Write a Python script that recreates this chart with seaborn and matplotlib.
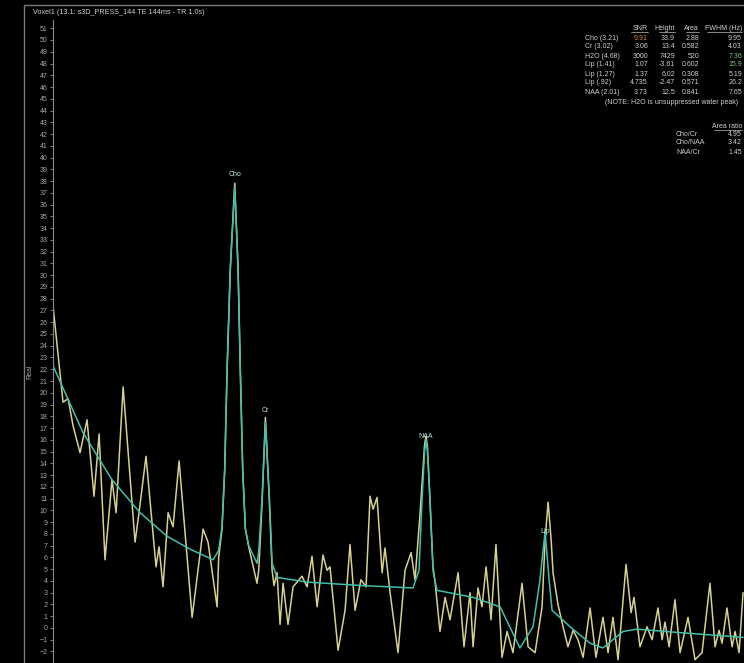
import numpy as np
import pandas as pd
import seaborn as sns
import matplotlib.pyplot as plt
from matplotlib.lines import Line2D
from matplotlib.patches import Rectangle

# --- data ---
# measured spectrum (real part), chemical shift in ppm
spec_ppm = [4.355, 4.292, 4.260, 4.229, 4.185, 4.141, 4.097, 4.065, 4.028, 3.984,
            3.958, 3.914, 3.839, 3.814, 3.770, 3.707, 3.688, 3.663, 3.631, 3.600,
            3.562, 3.480, 3.411, 3.380, 3.323, 3.313, 3.292, 3.275, 3.260, 3.240,
            3.212, 3.191, 3.177, 3.162, 3.145, 3.124, 3.072, 3.061, 3.040, 3.019,
            2.994, 2.977, 2.965, 2.946, 2.927,
            2.908, 2.877, 2.845, 2.789, 2.757, 2.726, 2.694, 2.657, 2.631, 2.613,
            2.562, 2.518, 2.487, 2.455, 2.418, 2.386, 2.361, 2.342, 2.317, 2.285,
            2.267, 2.235, 2.185, 2.141, 2.103, 2.078, 2.046, 2.028, 2.018, 2.009,
            2.000, 1.990,
            1.965, 1.952, 1.921, 1.889, 1.858, 1.807, 1.770, 1.732, 1.713, 1.682,
            1.657, 1.631, 1.600, 1.569, 1.531, 1.499, 1.462, 1.405, 1.367, 1.323,
            1.279, 1.260, 1.241, 1.222, 1.210, 1.179, 1.147, 1.116, 1.084, 1.053,
            1.021, 0.977,
            0.940, 0.896, 0.864, 0.833, 0.801, 0.751, 0.719, 0.701, 0.663, 0.619,
            0.587, 0.550, 0.524, 0.506, 0.480, 0.443, 0.411, 0.361, 0.317, 0.273,
            0.223, 0.191, 0.166, 0.147, 0.116, 0.084, 0.065, 0.040, 0.015]
spec_val = [27.4, 19.2, 19.5, 17.2, 14.9, 17.7, 11.2, 16.5, 5.8, 12.6,
            9.8, 20.5, 7.3, 9.8, 14.6, 5.2, 6.9, 3.5, 9.8, 8.6,
            14.2, 0.9, 8.4, 7.3, 1.8, 6.0, 8.4, 13.5, 22.0, 30.5,
            37.8, 30.5, 22.0, 13.5, 8.4, 6.9, 3.8, 4.9, 10.7, 17.9,
            10.7, 4.9, 3.6, 4.7, 0.3,
            3.8, 0.3, 3.5, 4.4, 3.5, 6.1, 1.8, 6.2, 4.9, 5.2,
            -1.9, 1.5, 7.1, 1.5, 4.1, 3.5, 11.2, 10.1, 11.1, 4.7,
            6.8, 3.0, -2.1, 4.9, 6.4, 4.1, 9.8, 13.5, 15.6, 16.3,
            15.4, 12.6,
            5.2, 3.9, -0.3, 2.6, 0.7, 4.7, -1.6, 3.0, -1.6, 3.4,
            1.8, 5.2, 0.7, 7.1, -2.5, -0.3, -2.1, 3.8, -1.6, -2.1,
            1.8, 7.5, 10.7, 7.5, 4.7, 2.0, 0.1, -1.6, -0.2, -1.0,
            -2.5, 1.7,
            -2.5, 0.9, -2.1, 0.9, -2.7, 5.4, 1.3, 2.6, -1.6, 0.1,
            -1.0, 1.7, -1.0, 0.5, -1.6, 2.4, -2.1, 0.9, -2.7, -2.1,
            3.8, -1.6, -0.2, -1.3, 1.7, -1.6, -0.3, -2.1, 3.0]

# fitted model (baseline + peaks)
fit_ppm = [4.355, 4.166, 3.984, 3.807, 3.638, 3.493, 3.348, 3.313, 3.292, 3.275,
           3.260, 3.240, 3.212, 3.191, 3.177, 3.162, 3.145, 3.124, 3.072, 3.061,
           3.040, 3.019, 2.994, 2.977, 2.946,
           2.757, 2.405, 2.091, 2.053, 2.034, 2.018, 2.009, 2.000, 1.984, 1.965,
           1.940, 1.713,
           1.543, 1.418, 1.336, 1.292, 1.260, 1.235, 1.216, 1.103, 0.977, 0.896,
           0.770, 0.682, 0.411, 0.015]
fit_val = [22.3, 16.6, 12.6, 9.8, 7.8, 6.7, 5.8, 6.6, 8.6, 13.5,
           22.0, 30.5, 37.5, 30.5, 22.0, 13.5, 8.4, 7.0, 5.5, 6.5,
           11.0, 17.5, 11.0, 5.5, 4.3,
           3.9, 3.6, 3.4, 4.9, 10.9, 15.0, 16.0, 15.0, 10.9, 4.9,
           3.2, 2.6,
           1.8, -1.7, 0.1, 4.1, 8.2, 4.1, 1.5, 0.1, -1.3, -1.7,
           -0.3, -0.1, -0.4, -0.8]

peak_names = ['Cho', 'Cr', 'NAA', 'Lip']
peak_ppm = [3.21, 3.02, 2.01, 1.26]
peak_label_y = [38.3, 18.2, 16.0, 7.9]

met_names = ['Cho (3.21)', 'Cr (3.02)', 'H2O (4.68)', 'Lip (1.41)',
             'Lip (1.27)', 'Lip (.92)', 'NAA (2.01)']
snr = ['9.91', '3.06', '3000', '1.07', '1.37', '4.735', '3.73']
height = ['33.9', '13.4', '7429', '-3.61', '6.02', '-2.47', '12.5']
area = ['2.88', '0.582', '520', '0.602', '0.308', '0.571', '0.841']
fwhm = ['9.95', '4.03', '7.36', '15.9', '5.19', '26.2', '7.65']

ratio_names = ['Cho/Cr', 'Cho/NAA', 'NAA/Cr']
ratio_vals = ['4.95', '3.42', '1.45']

title = 'Voxel1 (13.1: s3D_PRESS_144 TE 144ms - TR 1.0s)'

# --- figure setup ---
W, H = 744, 663
sns.set_style('dark', {'axes.facecolor': 'black', 'figure.facecolor': 'black'})
plt.rcParams['font.family'] = ['Liberation Sans', 'DejaVu Sans']

fig = plt.figure(figsize=(W / 100, H / 100), dpi=100)
fig.patch.set_facecolor('black')


def fx(px):
    return px / W


def fy(py):
    return 1 - py / H


ax = fig.add_axes([fx(53), 0, 1 - fx(53), fy(20)])
ax.set_facecolor('black')

spec = pd.DataFrame({'ppm': spec_ppm, 'val': spec_val})
fit = pd.DataFrame({'ppm': fit_ppm, 'val': fit_val})
sns.lineplot(data=spec, x='ppm', y='val', ax=ax, color='#d6d28e', lw=1.1,
             estimator=None, sort=False, solid_joinstyle='round')
sns.lineplot(data=fit, x='ppm', y='val', ax=ax, color='#3fbfae', lw=1.1,
             estimator=None, sort=False, solid_joinstyle='round')

ax.set_xlim(4.355, 0.009)
ax.set_ylim(-2.98, 51.7)
ax.set_yticks(range(-2, 52))
ax.tick_params(axis='y', labelsize=5, labelcolor='#a8a8a8', color='#909090',
               length=2.5, width=0.6, pad=1.5, left=True)
ax.set_xticks([])
ax.set_xlabel('')
ax.set_ylabel('')
ax.grid(False)
for side in ['top', 'right', 'bottom']:
    ax.spines[side].set_visible(False)
ax.spines['left'].set_visible(True)
ax.spines['left'].set_color('#8a8a8a')
ax.spines['left'].set_linewidth(0.8)

for name, p, y in zip(peak_names, peak_ppm, peak_label_y):
    ax.text(p, y, name, color='#b8e8e0', fontsize=5, ha='center', va='bottom')

# outer frame of the viewer panel
fig.add_artist(Rectangle((fx(24), -0.01), 1.0, fy(5) + 0.01, transform=fig.transFigure,
                         fill=False, edgecolor='#7a7a7a', lw=1.0))
fig.text(fx(33), fy(13), title, color='#d0d0d0', fontsize=5.2, va='center', ha='left')
fig.text(fx(30), fy(372), 'Real', color='#a8a8a8', fontsize=5, rotation=90,
         va='center', ha='center')

# --- results table ---
txt = dict(fontsize=5, color='#d0d0d0', va='center')
row_y = [38, 47, 56, 65, 74, 83, 92]
headers = [('SNR', 648, 'right', 631), ('Height', 675, 'right', 659),
           ('Area', 699, 'right', 686), ('FWHM (Hz)', 742, 'right', 707)]
for h, x, align, x0 in headers:
    fig.text(fx(x), fy(28), h, ha=align, **txt)
    fig.add_artist(Line2D([fx(x0), fx(x)], [fy(32), fy(32)], color='#c0c0c0', lw=0.5))

for i, y in enumerate(row_y):
    fig.text(fx(585), fy(y), met_names[i], ha='left', **txt)
    snr_col = '#d08848' if i == 0 else '#d0d0d0'
    fig.text(fx(648), fy(y), snr[i], ha='right', fontsize=5, color=snr_col, va='center')
    fig.text(fx(675), fy(y), height[i], ha='right', **txt)
    fig.text(fx(699), fy(y), area[i], ha='right', **txt)
    fw_col = '#7ec87e' if i in (2, 3) else '#d0d0d0'
    fig.text(fx(742), fy(y), fwhm[i], ha='right', fontsize=5, color=fw_col, va='center')

fig.text(fx(605), fy(102), '(NOTE: H2O is unsuppressed water peak)', ha='left', **txt)

fig.text(fx(742), fy(126), 'Area ratio', ha='right', **txt)
fig.add_artist(Line2D([fx(714), fx(742)], [fy(130), fy(130)], color='#c0c0c0', lw=0.5))
for name, val, y in zip(ratio_names, ratio_vals, [135, 143, 152]):
    fig.text(fx(676), fy(y), name, ha='left', **txt)
    fig.text(fx(742), fy(y), val, ha='right', **txt)

fig.savefig('out.png', dpi=100, facecolor='black')
